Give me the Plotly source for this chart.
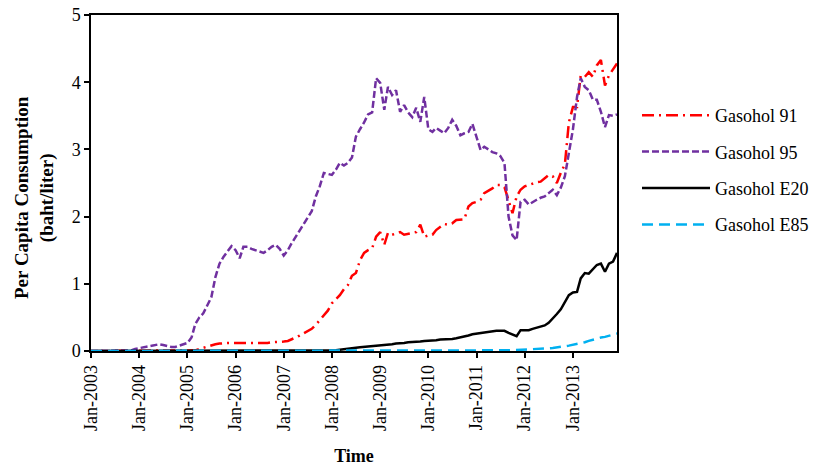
import plotly.graph_objects as go
import pandas as pd

months = pd.date_range("2003-01-01", periods=132, freq="MS").strftime("%Y-%m-%d").tolist()

gasohol_91 = [
    0, 0, 0, 0, 0, 0, 0, 0, 0, 0, 0, 0,
    0, 0, 0, 0, 0, 0, 0, 0, 0, 0, 0, 0,
    0, 0, 0.01, 0.03, 0.05, 0.07, 0.08, 0.10, 0.11, 0.12, 0.12, 0.12,
    0.12, 0.11, 0.11, 0.11, 0.12, 0.12, 0.12, 0.12, 0.12, 0.13, 0.13, 0.14,
    0.14, 0.15, 0.17, 0.20, 0.23, 0.26, 0.29, 0.33, 0.39, 0.46, 0.52, 0.60,
    0.71, 0.78, 0.83, 0.92, 0.98, 1.12, 1.16, 1.35, 1.46, 1.50, 1.53, 1.70,
    1.77, 1.58, 1.76, 1.73, 1.75, 1.77, 1.73, 1.74, 1.76, 1.77, 1.88, 1.70,
    1.72, 1.73, 1.80, 1.85, 1.89, 1.88, 1.90, 1.95, 1.95, 1.96, 2.15, 2.20,
    2.22, 2.25, 2.35, 2.38, 2.42, 2.47, 2.47, 2.44, 2.25, 2.05, 2.30, 2.40,
    2.45, 2.47, 2.50, 2.51, 2.52, 2.57, 2.62, 2.60, 2.50, 2.65, 2.78, 3.40,
    3.63, 3.63, 4.10, 4.08, 4.15, 4.08, 4.25, 4.33, 3.95, 4.10, 4.20, 4.28,
]

gasohol_95 = [
    0, 0, 0, 0, 0, 0, 0, 0, 0, 0, 0.01, 0.03,
    0.04, 0.05, 0.06, 0.07, 0.09, 0.10, 0.09, 0.07, 0.06, 0.06, 0.08, 0.10,
    0.12, 0.20, 0.40, 0.50, 0.56, 0.68, 0.80, 1.10, 1.30, 1.40, 1.48, 1.56,
    1.50, 1.38, 1.55, 1.55, 1.52, 1.50, 1.48, 1.46, 1.50, 1.55, 1.58, 1.52,
    1.42, 1.50, 1.60, 1.70, 1.78, 1.88, 1.98, 2.08, 2.30, 2.45, 2.65, 2.64,
    2.62, 2.70, 2.80, 2.76, 2.80, 2.88, 3.19, 3.30, 3.40, 3.52, 3.55, 4.06,
    3.99, 3.59, 3.93, 3.81, 3.88, 3.56, 3.66, 3.55, 3.48, 3.62, 3.41, 3.78,
    3.30, 3.26, 3.32, 3.28, 3.24, 3.32, 3.44, 3.35, 3.21, 3.24, 3.26, 3.38,
    3.20, 2.99, 3.04, 3.00, 2.96, 2.94, 2.90, 2.80, 2.00, 1.72, 1.65, 2.22,
    2.25, 2.18, 2.22, 2.25, 2.28, 2.30, 2.35, 2.40, 2.32, 2.43, 2.60, 2.95,
    3.30, 3.78, 4.06, 3.93, 3.88, 3.74, 3.74, 3.56, 3.33, 3.51, 3.50, 3.52,
]

gasohol_e20 = [
    0, 0, 0, 0, 0, 0, 0, 0, 0, 0, 0, 0,
    0, 0, 0, 0, 0, 0, 0, 0, 0, 0, 0, 0,
    0, 0, 0, 0, 0, 0, 0, 0, 0, 0, 0, 0,
    0, 0, 0, 0, 0, 0, 0, 0, 0, 0, 0, 0,
    0, 0, 0, 0, 0, 0, 0, 0, 0, 0, 0, 0,
    0, 0.01, 0.02, 0.03, 0.04, 0.045, 0.05, 0.055, 0.06, 0.065, 0.07, 0.07,
    0.08, 0.085, 0.09, 0.10, 0.11, 0.11, 0.12, 0.13, 0.13, 0.14, 0.14, 0.15,
    0.15, 0.16, 0.16, 0.17, 0.17, 0.18, 0.18, 0.19, 0.20, 0.21, 0.23, 0.25,
    0.26, 0.27, 0.28, 0.29, 0.29, 0.30, 0.30, 0.30, 0.27, 0.25, 0.22, 0.31,
    0.31, 0.31, 0.33, 0.35, 0.37, 0.38, 0.42, 0.48, 0.55, 0.62, 0.72, 0.83,
    0.87, 0.88, 1.08, 1.16, 1.15, 1.22, 1.28, 1.30, 1.18, 1.30, 1.33, 1.46,
]

gasohol_e85 = [
    0, 0, 0, 0, 0, 0, 0, 0, 0, 0, 0, 0,
    0, 0, 0, 0, 0, 0, 0, 0, 0, 0, 0, 0,
    0, 0, 0, 0, 0, 0, 0, 0, 0, 0, 0, 0,
    0, 0, 0, 0, 0, 0, 0, 0, 0, 0, 0, 0,
    0, 0, 0, 0, 0, 0, 0, 0, 0, 0, 0, 0,
    0, 0, 0, 0, 0, 0, 0, 0, 0, 0, 0, 0,
    0, 0, 0, 0, 0, 0, 0, 0, 0, 0, 0, 0,
    0, 0, 0, 0, 0, 0, 0, 0, 0, 0, 0, 0,
    0, 0, 0, 0, 0.002, 0.004, 0.006, 0.008, 0.01, 0.012, 0.014, 0.016,
    0.018, 0.02, 0.022, 0.025, 0.03, 0.035, 0.04, 0.045, 0.05, 0.06, 0.07, 0.08,
    0.09, 0.11, 0.12, 0.13, 0.15, 0.17, 0.19, 0.20, 0.21, 0.23, 0.25, 0.26,
]

tick_years = list(range(2003, 2014))
tick_vals = [f"{y}-01-01" for y in tick_years]
tick_text = [f"Jan-{y}" for y in tick_years]

series = [
    ("Gasohol 91", gasohol_91, "#FF0000", "12px,5px,2px,5px"),
    ("Gasohol 95", gasohol_95, "#7030A0", "7px,3px"),
    ("Gasohol E20", gasohol_e20, "#000000", "solid"),
    ("Gasohol E85", gasohol_e85, "#00B0F0", "11px,6px"),
]

FONT = "Liberation Serif, Times New Roman, serif"

fig = go.Figure()
for name, vals, color, dash in series:
    fig.add_trace(go.Scatter(
        x=months, y=vals, name=name, mode="lines",
        line=dict(color=color, width=2.5, dash=dash),
        legendgroup=name,
    ))

fig.update_layout(
    width=815, height=468,
    margin=dict(l=91, r=198, t=15, b=117, autoexpand=False),
    paper_bgcolor="white", plot_bgcolor="white",
    font=dict(family=FONT, size=18, color="black"),
    showlegend=True,
    legend=dict(
        xref="container", yref="container",
        x=637 / 815, xanchor="left", y=1 - 170 / 468, yanchor="middle",
        font=dict(family=FONT, size=18, color="black"),
        itemwidth=68, tracegroupgap=10, traceorder="grouped",
        bgcolor="rgba(0,0,0,0)",
    ),
    xaxis=dict(
        type="date", automargin=False,
        range=["2003-01-01", "2013-12-01"],
        tickmode="array", tickvals=tick_vals, ticktext=tick_text,
        tickangle=-90,
        ticks="outside", ticklen=5, tickcolor="black", tickwidth=1.5,
        showline=True, linecolor="black", linewidth=1.5, mirror=True,
        showgrid=False, zeroline=False,
        tickfont=dict(family=FONT, size=18, color="black"),
        title=dict(text="<b>Time</b>", font=dict(family=FONT, size=18, color="black"), standoff=19),
    ),
    yaxis=dict(
        range=[0, 5], dtick=1, tick0=0, automargin=False,
        ticks="outside", ticklen=5, tickcolor="black", tickwidth=1.5,
        showline=True, linecolor="black", linewidth=1.5, mirror=True,
        showgrid=False, zeroline=False,
        tickfont=dict(family=FONT, size=18, color="black"),
    ),
    annotations=[dict(
        text="<b>Per Capita Consumption<br>(baht/liter)</b>",
        xref="paper", yref="paper", x=(34 - 91) / 526, y=(351 - 198) / 336,
        xanchor="center", yanchor="middle", textangle=-90, showarrow=False,
        font=dict(family=FONT, size=19, color="black"),
    )],
)

fig.write_html("out.html")
